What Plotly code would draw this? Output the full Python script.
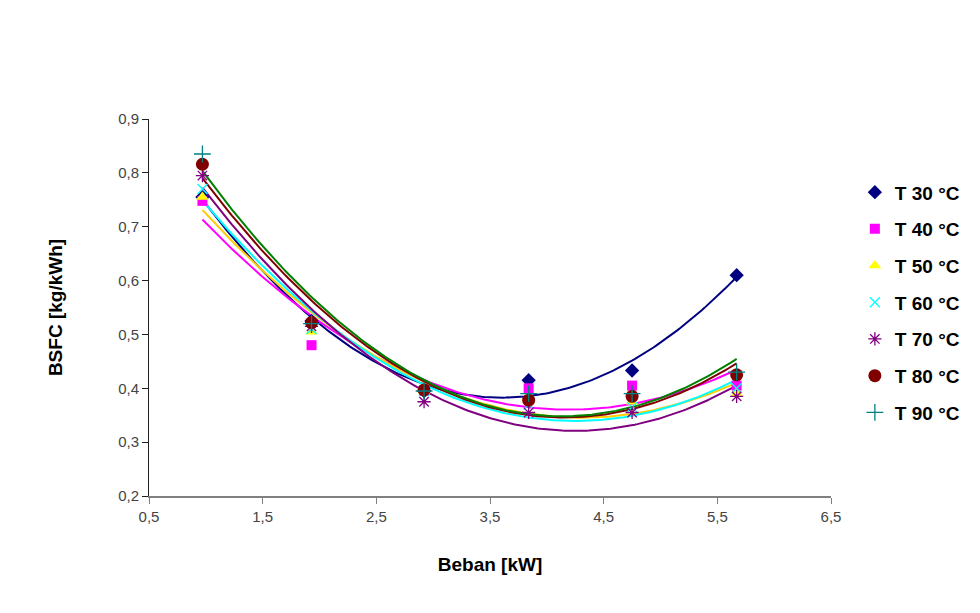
import numpy as np
import plotly.graph_objects as go

# ---- data ----
beban = [0.97, 1.93, 2.92, 3.84, 4.75, 5.67]
series_names = ["T 30 °C", "T 40 °C", "T 50 °C", "T 60 °C", "T 70 °C", "T 80 °C", "T 90 °C"]
t30 = [0.755, 0.525, 0.395, 0.415, 0.433, 0.610]
t40 = [0.748, 0.480, 0.395, 0.400, 0.405, 0.405]
t50 = [0.755, 0.505, 0.395, 0.380, 0.375, 0.390]
t60 = [0.770, 0.510, 0.395, 0.370, 0.365, 0.400]
t70 = [0.795, 0.515, 0.375, 0.355, 0.355, 0.385]
t80 = [0.816, 0.522, 0.397, 0.378, 0.385, 0.425]
t90 = [0.835, 0.520, 0.395, 0.390, 0.390, 0.430]
y_ticks = [0.2, 0.3, 0.4, 0.5, 0.6, 0.7, 0.8, 0.9]
x_ticks = [0.5, 1.5, 2.5, 3.5, 4.5, 5.5, 6.5]

values = [t30, t40, t50, t60, t70, t80, t90]
marker_colors = ["#000080", "#FF00FF", "#FFFF00", "#00FFFF", "#800080", "#800000", "#008080"]
line_colors = ["#000080", "#FF00FF", "#FFCC00", "#00FFFF", "#800080", "#800000", "#008000"]
symbols = ["diamond", "square", "triangle-up", "x-thin", "asterisk", "circle", "cross-thin"]
sizes = [11, 10, 11, 10, 11, 13, 12]

fig = go.Figure()

# polynomial (order 2) trendlines, like the spreadsheet
xs = np.linspace(beban[0], beban[-1], 200)
for name, vals, lc in zip(series_names, values, line_colors):
    coef = np.polyfit(beban, vals, 2)
    fig.add_trace(go.Scatter(x=xs, y=np.polyval(coef, xs), mode="lines",
                             line=dict(color=lc, width=2), showlegend=False,
                             hoverinfo="skip"))

for i, (name, vals, mc, sym, sz) in enumerate(zip(series_names, values, marker_colors, symbols, sizes)):
    thin = sym.endswith("thin") or sym == "asterisk"
    mk = dict(symbol=sym, size=sz, color=mc)
    if thin:
        mk["line"] = dict(color=mc, width=1.3)
    else:
        mk["line"] = dict(width=0)
    fig.add_trace(go.Scatter(x=beban, y=vals, mode="markers", name="<b>" + name + "</b>",
                             marker=mk, legendgroup=f"g{i}"))

axis_font = dict(family="Liberation Sans, Arial, sans-serif", size=15, color="#444444")
fig.update_layout(
    width=980, height=613,
    margin=dict(l=149, r=149, t=119, b=117),
    paper_bgcolor="white", plot_bgcolor="white",
    separators=", ",
    font=dict(family="Liberation Sans, Arial, sans-serif", color="black"),
    legend=dict(x=1.035, y=0.856, xanchor="left", yanchor="top",
                font=dict(family="Liberation Sans, Arial, sans-serif", size=19, color="black"),
                tracegroupgap=9, itemwidth=30, bgcolor="rgba(0,0,0,0)"),
    xaxis=dict(range=[0.5, 6.5], tickvals=x_ticks, tickformat=".1f",
               showgrid=False, zeroline=False, showline=True, linecolor="#808080", linewidth=1.5,
               ticks="outside", ticklen=6, tickcolor="#808080", tickfont=axis_font,
               title=dict(text="<b>Beban [kW]</b>", font=dict(size=19, color="black"), standoff=34)),
    yaxis=dict(range=[0.2, 0.9], tickvals=y_ticks, tickformat=".1f",
               showgrid=False, zeroline=False, showline=True, linecolor="#202020", linewidth=1,
               ticks="outside", ticklen=6, tickcolor="#202020", tickfont=axis_font,
               title=dict(text="<b>BSFC [kg/kWh]</b>", font=dict(size=19, color="black"), standoff=50)),
)

fig.write_html("out.html")
